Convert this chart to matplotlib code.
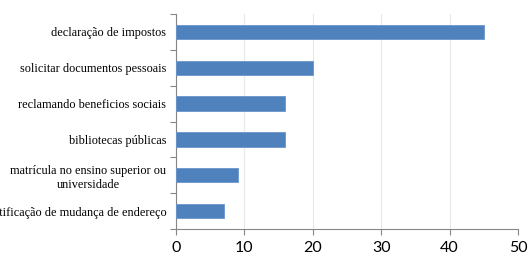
import matplotlib.pyplot as plt
import numpy as np

categories = ['notificação de mudança de endereço',
              'matrícula no ensino superior ou\nuniversidade',
              'bibliotecas públicas',
              'reclamando beneficios sociais',
              'solicitar documentos pessoais',
              'declaração de impostos']
values = [7, 9, 16, 16, 20, 45]
xticks = [0, 10, 20, 30, 40, 50]

def main():
    fig = plt.figure(figsize=(5.29, 2.77), dpi=100)
    ax = fig.add_axes([176/529, 48/277, 342/529, 215/277])

    y = np.arange(len(categories))
    ax.barh(y, values, height=0.4, color='#4f81bd', edgecolor='#6a96cc', linewidth=0.6, zorder=3)

    ax.set_xlim(0, 50)
    ax.set_ylim(-0.5, len(categories) - 0.5)
    ax.set_xticks(xticks)
    ax.set_xticklabels([str(t) for t in xticks], fontsize=11.5, family='Lato')
    ax.set_yticks(y)
    ax.set_yticklabels(categories, fontsize=8.8, family='Liberation Serif', multialignment='center')
    ax.tick_params(axis='y', length=0, pad=7)

    # small tick marks between the categories
    ax.set_yticks(np.arange(-0.5, len(categories), 1.0), minor=True)
    ax.tick_params(axis='y', which='minor', length=4, color='#868686', width=0.8)
    ax.tick_params(axis='x', length=4, color='#868686', width=0.8, pad=5)

    ax.grid(axis='x', color='#e8e8e8', linewidth=0.8, zorder=0)
    for s in ['top', 'right']:
        ax.spines[s].set_visible(False)
    ax.spines['left'].set_color('#868686')
    ax.spines['bottom'].set_color('#868686')

    fig.savefig('out.png', dpi=100)

if __name__ == "__main__":
    main()
